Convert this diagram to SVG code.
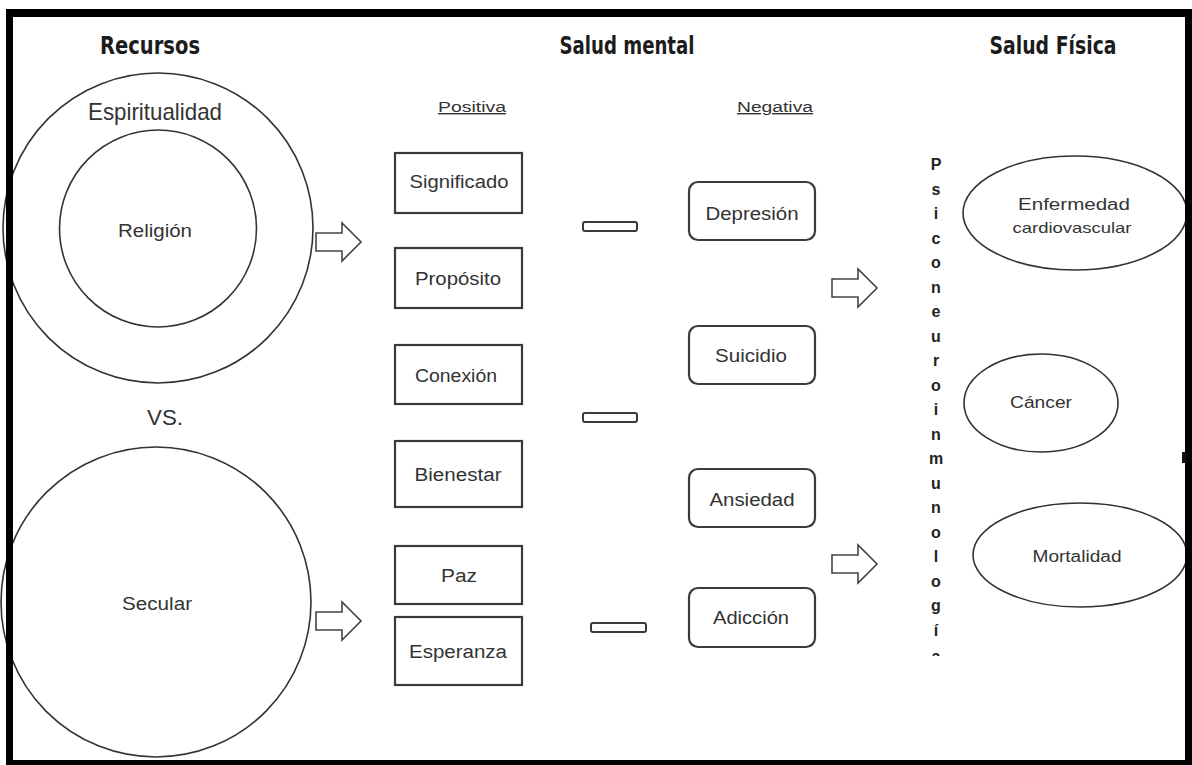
<svg xmlns="http://www.w3.org/2000/svg" width="1192" height="765" viewBox="0 0 1192 765">
<style>
.hdr{font-family:"Liberation Sans Narrow","DejaVu Sans Condensed","Liberation Sans",Arial,sans-serif;font-weight:bold;font-size:25px;fill:#1c1c1c;text-anchor:middle}
.t{font-family:"Liberation Sans",Arial,sans-serif;font-size:18px;fill:#333;text-anchor:middle}
.s{font-family:"Liberation Sans",Arial,sans-serif;font-size:16px;fill:#333;text-anchor:middle}
.sub{font-family:"Liberation Sans",Arial,sans-serif;font-size:14px;fill:#333;text-anchor:middle}
.v{font-family:"Liberation Sans",Arial,sans-serif;font-size:16px;font-weight:bold;fill:#222;text-anchor:middle}
.ln{fill:none;stroke:#333;stroke-width:1.6}
.bx{fill:#fff;stroke:#3a3a3a;stroke-width:2.2}
.eq{fill:#fff;stroke:#3a3a3a;stroke-width:2}
.ar{fill:#fff;stroke:#444;stroke-width:1.6;stroke-linejoin:miter}
</style>
<defs>
<path id="arr" d="M0,-9 H26 V-19 L45,0 L26,19 V9 H0 Z"/>
<clipPath id="vclip"><rect x="900" y="140" width="70" height="516"/></clipPath>
</defs>
<rect width="1192" height="765" fill="#fff"/>

<g id="rec-espiritualidad">
<circle class="ln" cx="158" cy="228" r="155"/>
<text class="t" x="155" y="120" style="font-size:24px" textLength="134" lengthAdjust="spacingAndGlyphs">Espiritualidad</text>
</g>
<g id="rec-religion">
<circle class="ln" cx="158" cy="228.5" r="98.5"/>
<text class="t" x="155" y="237" textLength="74" lengthAdjust="spacingAndGlyphs">Religión</text>
</g>
<g id="vs"><text class="t" x="165" y="425" style="font-size:22px" textLength="36" lengthAdjust="spacingAndGlyphs">VS.</text></g>
<g id="rec-secular">
<circle class="ln" cx="156" cy="602" r="155"/>
<text class="t" x="157" y="610" textLength="70" lengthAdjust="spacingAndGlyphs">Secular</text>
</g>

<g id="headers">
<text class="hdr" x="150" y="54" textLength="100" lengthAdjust="spacingAndGlyphs">Recursos</text>
<text class="hdr" x="627" y="54" textLength="135" lengthAdjust="spacingAndGlyphs">Salud mental</text>
<text class="hdr" x="1053" y="54" textLength="127" lengthAdjust="spacingAndGlyphs">Salud Física</text>
<text class="sub" x="472" y="112" textLength="68" lengthAdjust="spacingAndGlyphs" text-decoration="underline">Positiva</text>
<text class="sub" x="775" y="112" textLength="76" lengthAdjust="spacingAndGlyphs" text-decoration="underline">Negativa</text>
</g>

<g id="pos-significado"><rect class="bx" x="395" y="153" width="127" height="60"/><text class="t" x="459" y="188" textLength="99" lengthAdjust="spacingAndGlyphs">Significado</text></g>
<g id="pos-proposito"><rect class="bx" x="395" y="248" width="127" height="60"/><text class="t" x="458" y="285" textLength="86" lengthAdjust="spacingAndGlyphs">Propósito</text></g>
<g id="pos-conexion"><rect class="bx" x="395" y="345" width="127" height="59"/><text class="t" x="456" y="382" textLength="82" lengthAdjust="spacingAndGlyphs">Conexión</text></g>
<g id="pos-bienestar"><rect class="bx" x="395" y="441" width="127" height="66"/><text class="t" x="458" y="481" textLength="87" lengthAdjust="spacingAndGlyphs">Bienestar</text></g>
<g id="pos-paz"><rect class="bx" x="395" y="546" width="127" height="58"/><text class="t" x="459" y="582" textLength="36" lengthAdjust="spacingAndGlyphs">Paz</text></g>
<g id="pos-esperanza"><rect class="bx" x="395" y="617" width="127" height="68"/><text class="t" x="458" y="658" textLength="98" lengthAdjust="spacingAndGlyphs">Esperanza</text></g>

<g id="neg-depresion"><rect class="bx" x="689" y="182" width="126" height="58" rx="9"/><text class="t" x="752" y="220" textLength="93" lengthAdjust="spacingAndGlyphs">Depresión</text></g>
<g id="neg-suicidio"><rect class="bx" x="689" y="326" width="126" height="58" rx="9"/><text class="t" x="751" y="362" textLength="72" lengthAdjust="spacingAndGlyphs">Suicidio</text></g>
<g id="neg-ansiedad"><rect class="bx" x="689" y="469" width="126" height="58" rx="9"/><text class="t" x="752" y="506" textLength="85" lengthAdjust="spacingAndGlyphs">Ansiedad</text></g>
<g id="neg-adiccion"><rect class="bx" x="689" y="588" width="126" height="59" rx="9"/><text class="t" x="751" y="624" textLength="76" lengthAdjust="spacingAndGlyphs">Adicción</text></g>

<g id="psiconeuroinmunologia" clip-path="url(#vclip)">
<text class="v" x="936" y="170">
<tspan x="936" y="170">P</tspan><tspan x="936" y="194.5">s</tspan><tspan x="936" y="219">i</tspan><tspan x="936" y="243.5">c</tspan><tspan x="936" y="268">o</tspan><tspan x="936" y="292.5">n</tspan><tspan x="936" y="317">e</tspan><tspan x="936" y="341.5">u</tspan><tspan x="936" y="366">r</tspan><tspan x="936" y="390.5">o</tspan><tspan x="936" y="415">i</tspan><tspan x="936" y="439.5">n</tspan><tspan x="936" y="464">m</tspan><tspan x="936" y="488.5">u</tspan><tspan x="936" y="513">n</tspan><tspan x="936" y="537.5">o</tspan><tspan x="936" y="562">l</tspan><tspan x="936" y="586.5">o</tspan><tspan x="936" y="611">g</tspan><tspan x="936" y="635.5">í</tspan><tspan x="936" y="662">a</tspan>
</text>
</g>

<g id="fis-cardio"><ellipse class="ln" cx="1075" cy="213" rx="112" ry="57"/><text class="s" x="1074" y="210" textLength="112" lengthAdjust="spacingAndGlyphs">Enfermedad</text><text class="s" x="1072" y="233" style="font-size:15px" textLength="119" lengthAdjust="spacingAndGlyphs">cardiovascular</text></g>
<g id="fis-cancer"><ellipse class="ln" cx="1041" cy="403" rx="77" ry="49"/><text class="s" x="1041" y="408" textLength="62" lengthAdjust="spacingAndGlyphs">Cáncer</text></g>
<g id="fis-mortalidad"><ellipse class="ln" cx="1080" cy="555" rx="107" ry="52"/><text class="s" x="1077" y="562" textLength="89" lengthAdjust="spacingAndGlyphs">Mortalidad</text></g>

<g id="connectors">
<use href="#arr" class="ar" transform="translate(316,242)"/>
<use href="#arr" class="ar" transform="translate(316,621)"/>
<use href="#arr" class="ar" transform="translate(832,288)"/>
<use href="#arr" class="ar" transform="translate(832,564)"/>
<rect class="eq" x="583" y="222" width="54" height="9" rx="2"/>
<rect class="eq" x="583" y="413" width="54" height="9" rx="2"/>
<rect class="eq" x="591" y="623" width="55" height="9" rx="2"/>
</g>

<g id="frame">
<path fill="#000" fill-rule="evenodd" d="M6,9 H1192 V765 H6 Z M13,17 V760 H1185 V17 Z"/>
<rect x="1182" y="452" width="4" height="11" fill="#111"/>
</g>
</svg>
